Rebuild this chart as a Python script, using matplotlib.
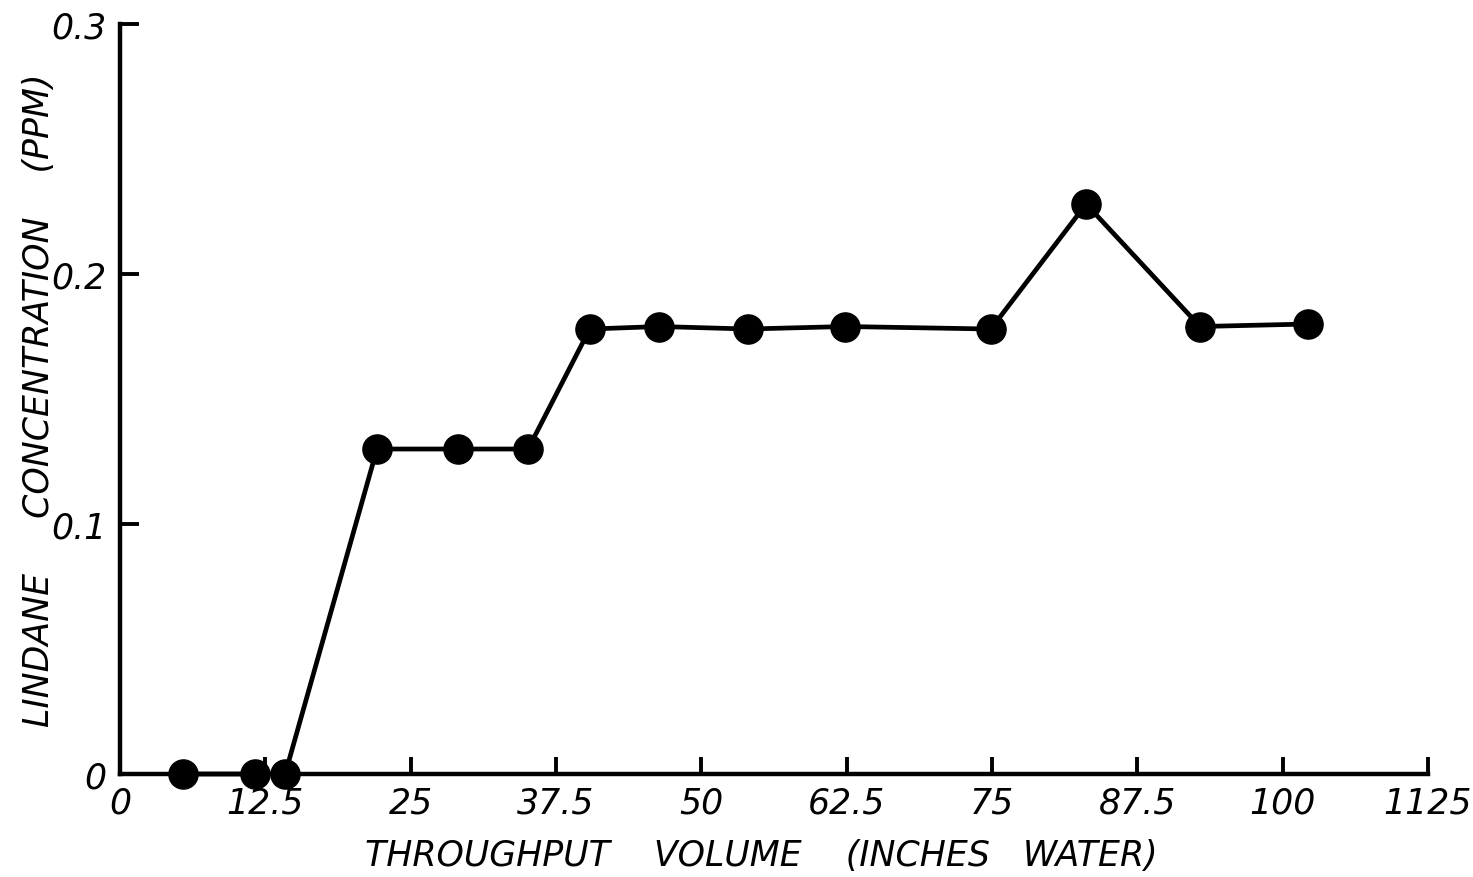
import matplotlib.pyplot as plt

volume = [5.4, 11.6, 14.2, 22.1, 29.1, 35.1, 40.4, 46.4, 54.0, 62.4, 74.9, 83.1, 92.9, 102.2]
conc = [0.0, 0.0, 0.0, 0.13, 0.13, 0.13, 0.178, 0.179, 0.178, 0.179, 0.178, 0.228, 0.179, 0.18]
xticks = [0, 12.5, 25, 37.5, 50, 62.5, 75, 87.5, 100, 112.5]
xlabels = ["0", "12.5", "25", "37.5", "50", "62.5", "75", "87.5", "100", "1125"]
yticks = [0, 0.1, 0.2, 0.3]
ylabels = ["0", "0.1", "0.2", "0.3"]

plt.rcParams['font.family'] = ['DejaVu Sans']
plt.rcParams['font.style'] = 'italic'

fig = plt.figure(figsize=(14.73, 8.78), dpi=100)
ax = fig.add_axes([0.0815, 0.1173, 0.8879, 0.8542])

ax.plot(volume, conc, color='black', linewidth=3.4, marker='o', markersize=21,
        markerfacecolor='black', markeredgecolor='black', clip_on=False, zorder=3)

ax.set_xlim(0, 112.5)
ax.set_ylim(0, 0.3)
ax.spines['top'].set_visible(False)
ax.spines['right'].set_visible(False)
ax.spines['left'].set_linewidth(3.2)
ax.spines['bottom'].set_linewidth(3.2)

ax.set_xticks(xticks)
ax.set_xticklabels(xlabels, fontsize=25, style='italic')
ax.set_yticks(yticks)
ax.set_yticklabels(ylabels, fontsize=25, style='italic')
ax.tick_params(axis='x', direction='in', length=12, width=2.8, pad=8)
ax.tick_params(axis='y', direction='in', length=14, width=2.8, pad=10)

ax.set_xlabel("THROUGHPUT    VOLUME    (INCHES   WATER)", fontsize=25, style='italic')
ax.set_ylabel("LINDANE     CONCENTRATION    (PPM)", fontsize=25, style='italic')
ax.xaxis.set_label_coords(0.49, -0.085)
ax.yaxis.set_label_coords(-0.049, 0.5)

fig.savefig("out.png", dpi=100)
